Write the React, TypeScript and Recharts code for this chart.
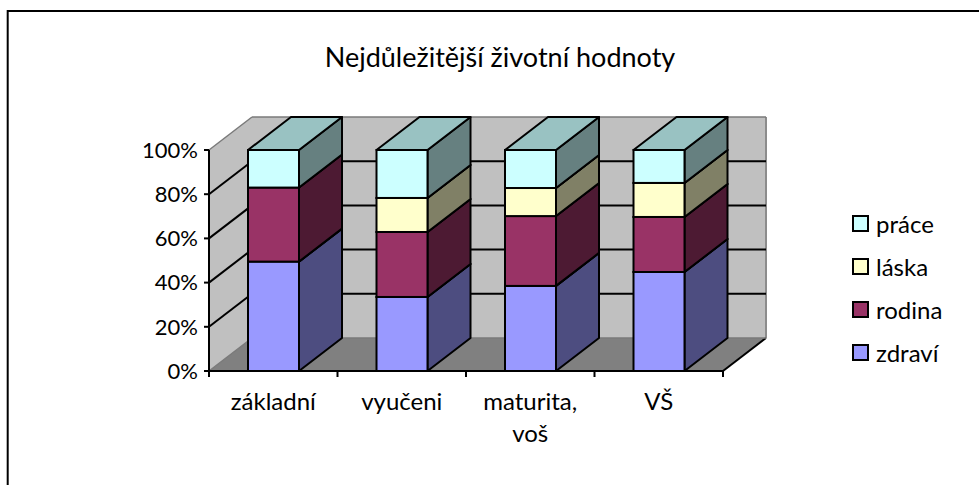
import React from 'react';
import { BarChart, Bar, XAxis, YAxis, CartesianGrid, Legend } from 'recharts';

// ---- data ----
const categories = ['základní', 'vyučeni', 'maturita, voš', 'VŠ'];
const zdravi = [49.5, 33.5, 38.5, 44.8];
const rodina = [33.5, 29.4, 31.6, 24.9];
const laska = [0, 15.4, 12.7, 15.4];
const prace = [17.0, 21.7, 17.2, 14.9];
const yTicks = [0, 20, 40, 60, 80, 100];
const seriesKeys = ['zdravi', 'rodina', 'laska', 'prace'] as const;
const seriesNames: Record<string, string> = { zdravi: 'zdraví', rodina: 'rodina', laska: 'láska', prace: 'práce' };
const title = 'Nejdůležitější životní hodnoty';

const data = categories.map((c, i) => ({
  name: c,
  zdravi: zdravi[i],
  rodina: rodina[i],
  laska: laska[i],
  prace: prace[i],
}));

// ---- layout ----
const W = 979;
const H = 485;
const PLOT_LEFT = 209;
const PLOT_RIGHT = 723;
const PLOT_TOP = 150;
const PLOT_BOTTOM = 371;
const DX = 43;
const DY = 33;
const Y_AXIS_W = 70;
const X_AXIS_H = 80;
const FONT = 'Lato, "DejaVu Sans", sans-serif';

const faces: Record<string, { front: string; side: string; top: string }> = {
  zdravi: { front: '#9999FF', side: '#4D4D80', top: '#7373BF' },
  rodina: { front: '#993366', side: '#4D1A33', top: '#73264D' },
  laska: { front: '#FFFFCC', side: '#808066', top: '#BFBF99' },
  prace: { front: '#CCFFFF', side: '#668080', top: '#99C2C2' },
};

const makeBox = (c: { front: string; side: string; top: string }) => (p: any) => {
  const { x, y, width: w, height: h } = p;
  if (!h || h <= 0.01 || !w) return <g />;
  const sw = 2;
  return (
    <g>
      <polygon
        points={`${x + w},${y} ${x + w + DX},${y - DY} ${x + w + DX},${y + h - DY} ${x + w},${y + h}`}
        fill={c.side}
        stroke="#000"
        strokeWidth={sw}
        strokeLinejoin="round"
      />
      <polygon
        points={`${x},${y} ${x + DX},${y - DY} ${x + w + DX},${y - DY} ${x + w},${y}`}
        fill={c.top}
        stroke="#000"
        strokeWidth={sw}
        strokeLinejoin="round"
      />
      <rect x={x} y={y} width={w} height={h} fill={c.front} stroke="#000" strokeWidth={sw} />
    </g>
  );
};

const Walls = () => (
  <g>
    <rect
      x={PLOT_LEFT + DX}
      y={PLOT_TOP - DY}
      width={PLOT_RIGHT - PLOT_LEFT}
      height={PLOT_BOTTOM - PLOT_TOP}
      fill="#C0C0C0"
    />
    <polygon
      points={`${PLOT_LEFT},${PLOT_TOP} ${PLOT_LEFT + DX},${PLOT_TOP - DY} ${PLOT_LEFT + DX},${PLOT_BOTTOM - DY} ${PLOT_LEFT},${PLOT_BOTTOM}`}
      fill="#C0C0C0"
    />
    <polygon
      points={`${PLOT_LEFT},${PLOT_BOTTOM} ${PLOT_RIGHT},${PLOT_BOTTOM} ${PLOT_RIGHT + DX},${PLOT_BOTTOM - DY} ${PLOT_LEFT + DX},${PLOT_BOTTOM - DY}`}
      fill="#808080"
    />
    <line
      x1={PLOT_RIGHT + DX}
      y1={PLOT_TOP - DY}
      x2={PLOT_RIGHT + DX}
      y2={PLOT_BOTTOM - DY}
      stroke="#8C8C8C"
      strokeWidth={2}
    />
    <line
      x1={PLOT_RIGHT}
      y1={PLOT_BOTTOM}
      x2={PLOT_RIGHT + DX}
      y2={PLOT_BOTTOM - DY}
      stroke="#000"
      strokeWidth={2}
    />
  </g>
);

const renderGridLine = (p: any) => {
  const y = p.y1;
  const edge = Math.abs(y - PLOT_TOP) < 1 || Math.abs(y - PLOT_BOTTOM) < 1;
  const color = edge ? '#7A7A7A' : '#000';
  return (
    <g key={p.key ?? `g-${p.index}`}>
      {p.index === 0 && <Walls />}
      <line x1={PLOT_LEFT} y1={y} x2={PLOT_LEFT + DX} y2={y - DY} stroke={color} strokeWidth={edge ? 1.5 : 2} />
      <line x1={PLOT_LEFT + DX} y1={y - DY} x2={PLOT_RIGHT + DX} y2={y - DY} stroke={color} strokeWidth={edge ? 1.5 : 2} />
    </g>
  );
};

const XTick = (p: any) => {
  const { x, payload, index } = p;
  const band = (PLOT_RIGHT - PLOT_LEFT) / categories.length;
  const words = String(payload.value).split(' ');
  return (
    <g>
      <line x1={x - band / 2} y1={PLOT_BOTTOM} x2={x - band / 2} y2={PLOT_BOTTOM + 6} stroke="#000" strokeWidth={2} />
      {index === categories.length - 1 && (
        <line x1={x + band / 2} y1={PLOT_BOTTOM} x2={x + band / 2} y2={PLOT_BOTTOM + 6} stroke="#000" strokeWidth={2} />
      )}
      <text x={x} y={PLOT_BOTTOM + 39} textAnchor="middle" fontFamily={FONT} fontSize={24} fill="#000">
        {words.map((w, i) => (
          <tspan key={i} x={x} dy={i === 0 ? 0 : 32}>
            {w}
          </tspan>
        ))}
      </text>
    </g>
  );
};

const LegendContent = () => {
  const items = [...seriesKeys].reverse();
  return (
    <div style={{ fontFamily: FONT, fontSize: 24, color: '#000', lineHeight: 1 }}>
      {items.map((k) => (
        <div key={k} style={{ display: 'flex', alignItems: 'center', height: 43 }}>
          <span
            style={{
              width: 13,
              height: 13,
              border: '2px solid #000',
              background: faces[k].front,
              display: 'inline-block',
              flex: 'none',
            }}
          />
          <span style={{ marginLeft: 7 }}>{seriesNames[k]}</span>
        </div>
      ))}
    </div>
  );
};

export default function App() {
  return (
    <div style={{ position: 'absolute', left: 0, top: 0, width: W, height: H, background: '#fff' }}>
      <svg width={W} height={H} style={{ position: 'absolute', left: 0, top: 0 }}>
        <line x1={7.7} y1={11} x2={W} y2={11} stroke="#000" strokeWidth={2} />
        <line x1={7.7} y1={10} x2={7.7} y2={H} stroke="#000" strokeWidth={2} />
        <text x={500} y={67} textAnchor="middle" fontFamily={FONT} fontSize={27} fill="#000">
          {title}
        </text>
      </svg>
      <div style={{ position: 'absolute', left: 0, top: 0 }}>
        <BarChart
          width={W}
          height={H}
          data={data}
          margin={{
            top: PLOT_TOP,
            left: PLOT_LEFT - Y_AXIS_W,
            right: W - PLOT_RIGHT,
            bottom: H - PLOT_BOTTOM - X_AXIS_H,
          }}
        >
          <CartesianGrid vertical={false} horizontal={renderGridLine} />
          <YAxis
            width={Y_AXIS_W}
            domain={[0, 100]}
            ticks={yTicks}
            interval={0}
            tickFormatter={(v: number) => `${v}%`}
            tickSize={5}
            tickMargin={6}
            axisLine={{ stroke: '#000', strokeWidth: 2 }}
            tickLine={{ stroke: '#000', strokeWidth: 2 }}
            tick={{ fill: '#000', fontSize: 22, fontFamily: FONT }}
          />
          <XAxis
            dataKey="name"
            height={X_AXIS_H}
            interval={0}
            tickLine={false}
            axisLine={{ stroke: '#000', strokeWidth: 2 }}
            tick={<XTick />}
          />
          {seriesKeys.map((k) => (
            <Bar
              key={k}
              dataKey={k}
              name={seriesNames[k]}
              stackId="a"
              fill={faces[k].front}
              barSize={51}
              isAnimationActive={false}
              shape={makeBox(faces[k])}
            />
          ))}
          <Legend
            layout="vertical"
            align="center"
            verticalAlign="middle"
            content={<LegendContent />}
            wrapperStyle={{ left: 852, top: 202, width: 125 }}
          />
        </BarChart>
      </div>
    </div>
  );
}
